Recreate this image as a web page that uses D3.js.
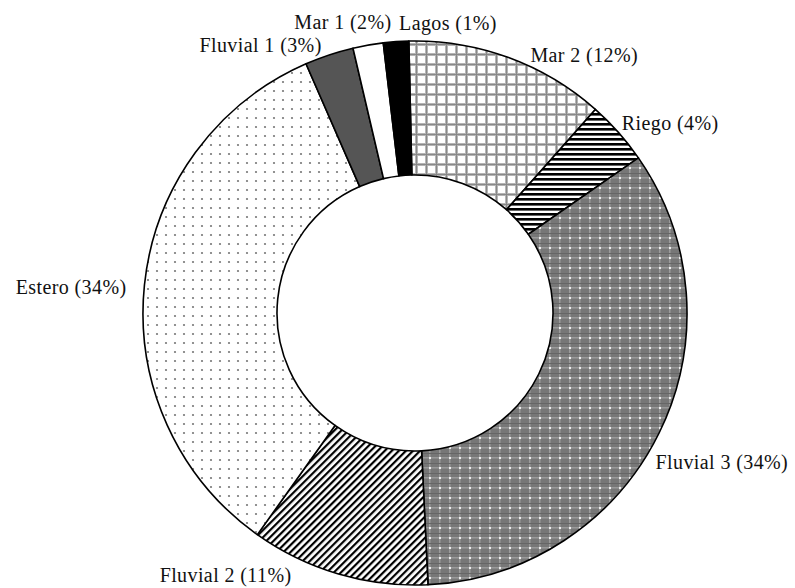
<!DOCTYPE html>
<html>
<head>
<meta charset="utf-8">
<script src="https://cdn.jsdelivr.net/npm/d3@7"></script>
<style>
  body { margin: 0; background: #fff; }
  text { font-family: "Liberation Serif", "DejaVu Serif", serif; font-size: 20px; letter-spacing: 0.4px; fill: #111; }
</style>
</head>
<body>
<div class="chart"></div>
<script>
// Datos
var categorias = ["Mar 2", "Riego", "Fluvial 3", "Fluvial 2", "Estero", "Fluvial 1", "Mar 1", "Lagos"];
var valores = [11.9, 3.8, 33.9, 10.6, 33.6, 2.9, 1.8, 1.5];
var porcentajes = [12, 4, 34, 11, 34, 3, 2, 1];
var rellenos = ["url(#pMar2)", "url(#pRiego)", "url(#pFluvial3)", "url(#pFluvial2)", "url(#pEstero)", "#555555", "#ffffff", "#000000"];

var width = 795, height = 588;
var cx = 415, cy = 313;
var rOut = 272, rIn = 138;

// ajustes de etiquetas (dx, dy, anchor)
var ajustes = [
    [17, 11, "start"],
    [-7, 0, "start"],
    [-16, 23, "start"],
    [-43, -12, "end"],
    [-4, 3, "end"],
    [-3, 3, "end"],
    [26, -9, "end"],
    [4, -5, "start"]
];

var svg = d3.select(".chart").append("svg")
    .attr("width", width)
    .attr("height", height);

var defs = svg.append("defs");

// Mar 2: cuadricula gris
var p1 = defs.append("pattern").attr("id", "pMar2").attr("patternUnits", "userSpaceOnUse")
    .attr("width", 10).attr("height", 10);
p1.append("rect").attr("width", 10).attr("height", 10).attr("fill", "#fff");
p1.append("rect").attr("width", 10).attr("height", 3).attr("fill", "#b5b5b5");
p1.append("rect").attr("width", 3).attr("height", 10).attr("fill", "#b5b5b5");
p1.append("rect").attr("x", 1).attr("width", 1).attr("height", 10).attr("fill", "#888");
p1.append("rect").attr("y", 1).attr("width", 10).attr("height", 1).attr("fill", "#888");

// Riego: rayas horizontales
var p2 = defs.append("pattern").attr("id", "pRiego").attr("patternUnits", "userSpaceOnUse")
    .attr("width", 6).attr("height", 5);
p2.append("rect").attr("width", 6).attr("height", 5).attr("fill", "#fff");
p2.append("rect").attr("width", 6).attr("height", 2.6).attr("fill", "#000");

// Fluvial 3: gris con trama y puntos blancos
var p3 = defs.append("pattern").attr("id", "pFluvial3").attr("patternUnits", "userSpaceOnUse")
    .attr("width", 10).attr("height", 10);
p3.append("rect").attr("width", 10).attr("height", 10).attr("fill", "#777");
p3.append("rect").attr("y", 4).attr("width", 10).attr("height", 1.5).attr("fill", "#9a9a9a");
p3.append("rect").attr("x", 4).attr("width", 1.5).attr("height", 10).attr("fill", "#9a9a9a");
p3.append("rect").attr("x", 0).attr("y", 0).attr("width", 10).attr("height", 1).attr("fill", "#666");
p3.append("rect").attr("x", 4).attr("y", 4).attr("width", 2).attr("height", 2).attr("fill", "#eee");

// Fluvial 2: rayas diagonales
var p4 = defs.append("pattern").attr("id", "pFluvial2").attr("patternUnits", "userSpaceOnUse")
    .attr("width", 5).attr("height", 5).attr("patternTransform", "rotate(45)");
p4.append("rect").attr("width", 5).attr("height", 5).attr("fill", "#fff");
p4.append("rect").attr("width", 2.2).attr("height", 5).attr("fill", "#000");

// Estero: puntos grises
var p5 = defs.append("pattern").attr("id", "pEstero").attr("patternUnits", "userSpaceOnUse")
    .attr("width", 9).attr("height", 9);
p5.append("rect").attr("width", 9).attr("height", 9).attr("fill", "#fff");
p5.append("circle").attr("cx", 3).attr("cy", 3).attr("r", 1.1).attr("fill", "#777");

var pie = d3.pie()
    .sort(null)
    .value(function(d) { return d; })
    .startAngle(-1.3 * Math.PI / 180)
    .endAngle(2 * Math.PI - 1.3 * Math.PI / 180);

var arc = d3.arc().innerRadius(rIn).outerRadius(rOut);

var g = svg.append("g").attr("transform", "translate(" + cx + "," + cy + ")");

var arcos = pie(valores);

g.selectAll("path")
    .data(arcos)
    .enter().append("path")
    .attr("d", arc)
    .attr("fill", function(d, i) { return rellenos[i]; })
    .attr("stroke", "#000")
    .attr("stroke-width", 1.6)
    .attr("stroke-linejoin", "round");

// Etiquetas
var rLab = 286;
g.selectAll("text")
    .data(arcos)
    .enter().append("text")
    .attr("x", function(d, i) {
        var a = (d.startAngle + d.endAngle) / 2;
        return rLab * Math.sin(a) + ajustes[i][0];
    })
    .attr("y", function(d, i) {
        var a = (d.startAngle + d.endAngle) / 2;
        return -rLab * Math.cos(a) + ajustes[i][1];
    })
    .attr("dy", "0.35em")
    .attr("text-anchor", function(d, i) { return ajustes[i][2]; })
    .text(function(d, i) { return categorias[i] + " (" + porcentajes[i] + "%)"; });
</script>
</body>
</html>
